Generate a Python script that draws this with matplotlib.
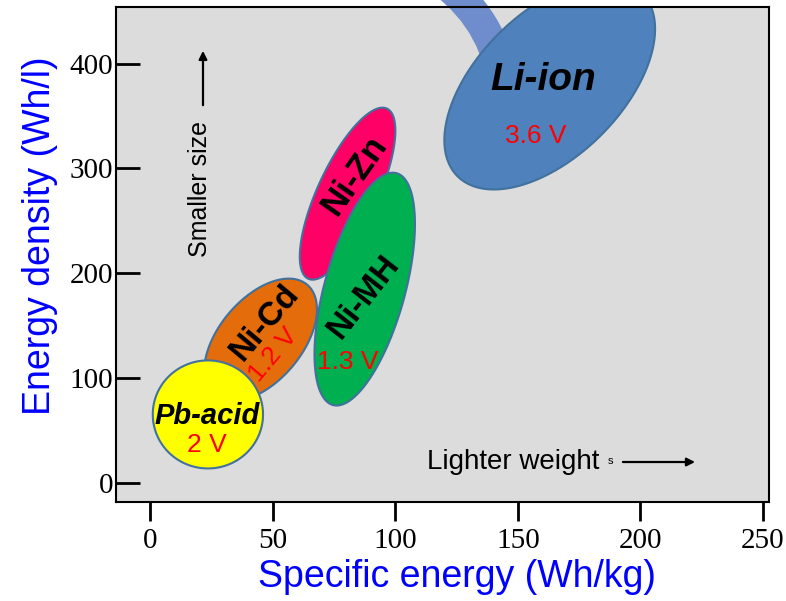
import numpy as np
import matplotlib
matplotlib.use("Agg")
import matplotlib.pyplot as plt
from matplotlib.patches import FancyArrowPatch


# -------- DATA --------
chemistries = ["Li-ion", "Ni-Zn", "Ni-MH", "Ni-Cd", "Pb-acid"]
voltages = ["3.6 V", "", "1.3 V", "1.2 V", "2 V"]

# specific energy range (Wh/kg)
se_low = [120, 61, 67, 22, 1]
se_high = [206, 100, 108, 68, 46]

# energy density range (Wh/l)
ed_low = [280, 194, 74, 78, 14]
ed_high = [480, 358, 296, 195, 117]

# phase between the two ranges -> tilt of the blob (90 = upright)
phase = [58, 43, 56, 60, 90]

x_ticks = [0, 50, 100, 150, 200, 250]
y_ticks = [0, 100, 200, 300, 400]

# -------- STYLE --------
colors = ["#4f81bd", "#ff0066", "#00b050", "#e46c0a", "#ffff00"]
EDGE = "#41719c"
SANS = ["Liberation Sans", "DejaVu Sans"]
SERIF = ["Liberation Serif", "DejaVu Serif"]

# name label: offset from blob centre (px), rotation, size, italic
name_style = {
    "Li-ion": (-7, 5, 0, 28, "italic"),
    "Ni-Zn": (7, 19, 55, 25, "normal"),
    "Ni-MH": (-1, -8, 52, 24, "normal"),
    "Ni-Cd": (4, 18, 50, 24, "normal"),
    "Pb-acid": (-1, -2, 0, 21, "italic"),
}
volt_style = {
    "Li-ion": (-14, -51, 0, 19),
    "Ni-MH": (-17, -73, 0, 19),
    "Ni-Cd": (13, -15, 50, 19),
    "Pb-acid": (-1, -31, 0, 19),
}

fig = plt.figure(figsize=(7.86, 6.01), dpi=100)
ax = fig.add_axes([0.1476, 0.1647, 0.8308, 0.8237])
ax.set_facecolor("#dcdcdc")
ax.set_xlim(-14, 252.5)
ax.set_ylim(-18, 454)

# -------- CURVED POINTER INTO Li-ion --------
pointer = FancyArrowPatch(
    (0.5407, 1.0499), (0.6425, 0.817),
    transform=fig.transFigure,
    connectionstyle="arc3,rad=-0.28",
    arrowstyle="simple,head_length=1.0,head_width=1.8,tail_width=1.1",
    mutation_scale=20,
    color="#6f8dcc", lw=0, clip_on=False, zorder=1.5,
)
ax.add_patch(pointer)

# -------- BLOBS --------
t = np.linspace(0, 2 * np.pi, 300)
for i, name in enumerate(chemistries):
    cx = (se_low[i] + se_high[i]) / 2
    rx = (se_high[i] - se_low[i]) / 2
    cy = (ed_low[i] + ed_high[i]) / 2
    ry = (ed_high[i] - ed_low[i]) / 2
    xs = cx + rx * np.cos(t)
    ys = cy + ry * np.cos(t - np.radians(phase[i]))
    ax.fill(xs, ys, facecolor=colors[i], edgecolor=EDGE, lw=1.5, zorder=2 + i)

    dx, dy, rot, size, style = name_style[name]
    ax.annotate(name, (cx, cy), xytext=(dx, dy), textcoords="offset pixels",
                ha="center", va="center", rotation=rot, rotation_mode="anchor",
                fontsize=size, fontweight="bold", fontstyle=style,
                family=SANS, color="black", zorder=10)
    if voltages[i]:
        dx, dy, rot, size = volt_style[name]
        ax.annotate(voltages[i], (cx, cy), xytext=(dx, dy),
                    textcoords="offset pixels", ha="center", va="center",
                    rotation=rot, rotation_mode="anchor", fontsize=size,
                    family=SANS, color="red", zorder=10)

# -------- DIRECTION HINTS --------
ax.text(0.1286, 0.632, "Smaller size", transform=ax.transAxes, rotation=90,
        ha="center", va="center", fontsize=18, family=SANS, zorder=10)
ax.annotate("", xy=(0.1332, 0.917), xytext=(0.1332, 0.796),
            xycoords="axes fraction", textcoords="axes fraction",
            arrowprops=dict(arrowstyle="-|>", color="black", lw=1.6,
                            mutation_scale=12))

ax.text(0.476, 0.0667, "Lighter weight", transform=ax.transAxes,
        ha="left", va="baseline", fontsize=20, family=SANS, zorder=10)
ax.text(0.757, 0.083, "s", transform=ax.transAxes, ha="center",
        va="center", fontsize=8, family=SANS, zorder=10)
ax.annotate("", xy=(0.891, 0.0808), xytext=(0.772, 0.0808),
            xycoords="axes fraction", textcoords="axes fraction",
            arrowprops=dict(arrowstyle="-|>", color="black", lw=1.6,
                            mutation_scale=12))

# -------- AXES --------
ax.set_xticks(x_ticks)
ax.set_yticks(y_ticks)
ax.tick_params(axis="x", direction="out", length=14, width=2, pad=5,
               labelsize=21)
ax.tick_params(axis="y", direction="in", length=17, width=2, pad=2,
               labelsize=21)
for lbl in ax.get_xticklabels() + ax.get_yticklabels():
    lbl.set_family(SERIF)
for sp in ax.spines.values():
    sp.set_linewidth(1.5)

ax.set_xlabel("Specific energy (Wh/kg)", fontsize=27, family=SANS,
              color="#0000ff")
ax.set_ylabel("Energy density (Wh/l)", fontsize=27, family=SANS,
              color="#0000ff")
ax.xaxis.set_label_coords(0.522, -0.115)
ax.yaxis.set_label_coords(-0.089, 0.537)

fig.savefig("out.png", dpi=100)
